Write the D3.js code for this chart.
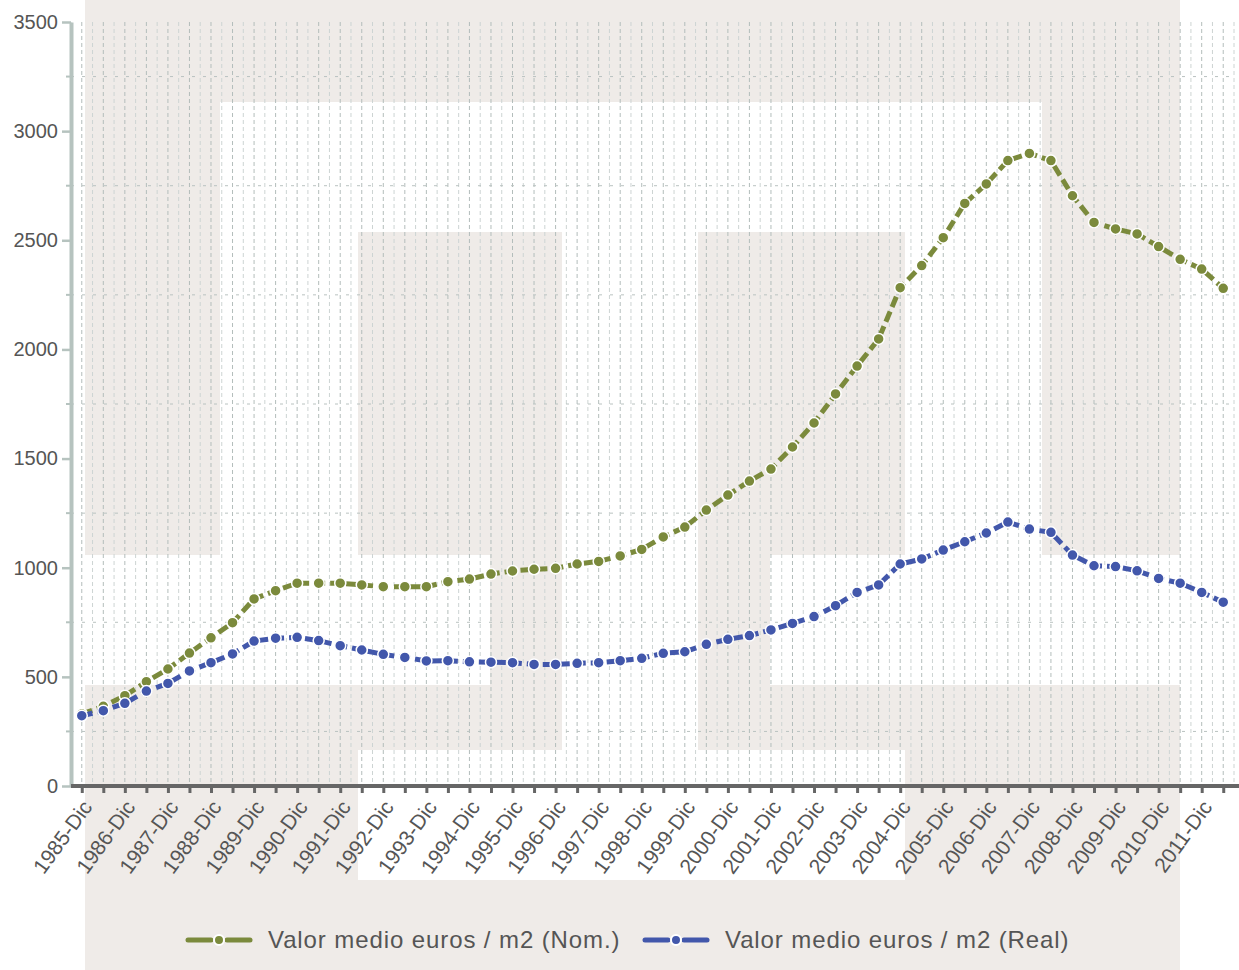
<!DOCTYPE html>
<html>
<head>
<meta charset="utf-8">
<script src="https://cdn.jsdelivr.net/npm/d3@7"></script>
<style>
  body { margin: 0; background: #fff; }
  svg { display: block; font-family: "Liberation Sans", Arial, sans-serif; }
</style>
</head>
<body>
<div id="chart"></div>
<script>
const periods = [
    "1985-Dic", "1986-Jun", "1986-Dic", "1987-Jun", "1987-Dic", "1988-Jun", "1988-Dic",
    "1989-Jun", "1989-Dic", "1990-Jun", "1990-Dic", "1991-Jun", "1991-Dic", "1992-Jun",
    "1992-Dic", "1993-Jun", "1993-Dic", "1994-Jun", "1994-Dic", "1995-Jun", "1995-Dic",
    "1996-Jun", "1996-Dic", "1997-Jun", "1997-Dic", "1998-Jun", "1998-Dic", "1999-Jun",
    "1999-Dic", "2000-Jun", "2000-Dic", "2001-Jun", "2001-Dic", "2002-Jun", "2002-Dic",
    "2003-Jun", "2003-Dic", "2004-Jun", "2004-Dic", "2005-Jun", "2005-Dic", "2006-Jun",
    "2006-Dic", "2007-Jun", "2007-Dic", "2008-Jun", "2008-Dic", "2009-Jun", "2009-Dic",
    "2010-Jun", "2010-Dic", "2011-Jun", "2011-Dic", "2012-Jun"
];
const nominal = [
    330, 365, 414, 478, 536, 609, 679, 748, 857, 895, 929, 929, 929, 921,
    913, 913, 913, 936, 948, 971, 985, 993, 997, 1017, 1029, 1054, 1084, 1141,
    1186, 1264, 1333, 1397, 1452, 1553, 1663, 1796, 1924, 2048, 2283, 2384, 2512, 2669,
    2758, 2865, 2898, 2865, 2704, 2582, 2552, 2529, 2471, 2413, 2368, 2280
];
const real = [
    322, 345, 379, 435, 470, 527, 565, 605, 664, 677, 681, 666, 643, 623,
    603, 589, 573, 574, 569, 567, 565, 557, 557, 562, 565, 574, 585, 608,
    615, 649, 672, 689, 715, 745, 776, 826, 887, 921, 1017, 1040, 1081, 1119,
    1159, 1209, 1177, 1162, 1058, 1009, 1005, 986, 951, 929, 887, 842
];
const seriesNames = ["Valor medio euros / m2 (Nom.)", "Valor medio euros / m2 (Real)"];
const seriesColors = ["#7b8a3c", "#4257ab"];
const yMajor = [0, 500, 1000, 1500, 2000, 2500, 3000, 3500];
const yMinor = [250, 750, 1250, 1750, 2250, 2750, 3250];

const width = 1239;
const height = 970;
const margin = { top: 22, bottom: 184, left: 71, right: 5 };

const svg = d3
    .select("#chart")
    .append("svg")
    .attr("width", width)
    .attr("height", height);

// watermark blocks behind the plot
const watermark = [
    [85, 0, 1095, 102],
    [85, 102, 135, 453],
    [1042, 102, 138, 453],
    [358, 232, 204, 323],
    [698, 232, 207, 323],
    [490, 555, 72, 130],
    [698, 555, 72, 130],
    [85, 685, 477, 65],
    [698, 685, 482, 65],
    [85, 750, 273, 220],
    [905, 750, 275, 220],
    [358, 880, 547, 90]
];
svg.append("g")
    .selectAll("rect")
    .data(watermark)
    .enter()
    .append("rect")
    .attr("x", (d) => d[0])
    .attr("y", (d) => d[1])
    .attr("width", (d) => d[2])
    .attr("height", (d) => d[3])
    .attr("fill", "#efebe8");

const x = d3
    .scalePoint()
    .domain(periods)
    .range([margin.left, width - margin.right])
    .padding(0.5);
const y = d3
    .scaleLinear()
    .domain([0, 3500])
    .range([height - margin.bottom, margin.top]);

// grid
const step = x.step();
const gridGroup = svg.append("g").attr("id", "grid");
gridGroup
    .selectAll("line.major")
    .data(periods)
    .enter()
    .append("line")
    .attr("x1", (d) => x(d))
    .attr("x2", (d) => x(d))
    .attr("y1", y(3500))
    .attr("y2", y(0))
    .attr("stroke", "#b3bdbb")
    .attr("stroke-width", 1)
    .attr("stroke-dasharray", "4,3");
gridGroup
    .selectAll("line.half")
    .data([-1].concat(d3.range(periods.length)))
    .enter()
    .append("line")
    .attr("x1", (i) => (i < 0 ? x(periods[0]) - step / 2 : x(periods[i]) + step / 2))
    .attr("x2", (i) => (i < 0 ? x(periods[0]) - step / 2 : x(periods[i]) + step / 2))
    .attr("y1", y(3500))
    .attr("y2", y(0))
    .attr("stroke", "#cdd4d3")
    .attr("stroke-width", 1)
    .attr("stroke-dasharray", "4,3");
gridGroup
    .selectAll("line.h")
    .data(yMinor)
    .enter()
    .append("line")
    .attr("x1", margin.left)
    .attr("x2", width - margin.right)
    .attr("y1", (d) => y(d))
    .attr("y2", (d) => y(d))
    .attr("stroke", "#b9c2c0")
    .attr("stroke-width", 1)
    .attr("stroke-dasharray", "3,8");

// y axis
const yAxisGroup = svg.append("g").attr("transform", `translate(${margin.left},0)`);
yAxisGroup.call(
    d3.axisLeft(y)
        .tickValues(yMajor)
        .tickFormat(d3.format("d"))
        .tickSize(9)
        .tickSizeOuter(0)
        .tickPadding(4)
);
yAxisGroup.select(".domain").attr("stroke", "#b6c3bf").attr("stroke-width", 4);
yAxisGroup.selectAll(".tick line").attr("stroke", "#b6c3bf").attr("stroke-width", 2.5);
yAxisGroup
    .selectAll(".tick text")
    .attr("fill", "#555")
    .style("font-size", "20px");
yAxisGroup
    .selectAll("line.minor")
    .data(yMinor)
    .enter()
    .append("line")
    .attr("x1", -5)
    .attr("x2", 0)
    .attr("y1", (d) => y(d))
    .attr("y2", (d) => y(d))
    .attr("stroke", "#b6c3bf")
    .attr("stroke-width", 2);

// x axis
const xAxisGroup = svg.append("g").attr("transform", `translate(0,${y(0)})`);
xAxisGroup.call(
    d3.axisBottom(x)
        .tickSize(7)
        .tickSizeOuter(0)
        .tickFormat((d, i) => (i % 2 === 0 ? d : ""))
);
xAxisGroup
    .select(".domain")
    .attr("d", `M${margin.left},0H${width}`)
    .attr("stroke", "#666")
    .attr("stroke-width", 4);
xAxisGroup.selectAll(".tick line").attr("stroke", "#666").attr("stroke-width", 3);
xAxisGroup
    .selectAll(".tick text")
    .attr("fill", "#555")
    .style("font-size", "21px")
    .attr("text-anchor", "end")
    .attr("y", 0)
    .attr("dy", "0.35em")
    .attr("transform", "translate(5,17) rotate(-54)");

// lines
const series = [nominal, real];
const line = d3
    .line()
    .x((d, i) => x(periods[i]))
    .y((d) => y(d));
const lineGroup = svg.append("g").attr("id", "lines");
series.forEach((values, s) => {
    lineGroup
        .append("path")
        .attr("d", line(values))
        .attr("fill", "none")
        .attr("stroke", seriesColors[s])
        .attr("stroke-width", 5)
        .attr("stroke-dasharray", "11,5");
    lineGroup
        .selectAll(`circle.s${s}`)
        .data(values)
        .enter()
        .append("circle")
        .attr("class", `s${s}`)
        .attr("cx", (d, i) => x(periods[i]))
        .attr("cy", (d) => y(d))
        .attr("r", 5.5)
        .attr("fill", seriesColors[s])
        .attr("stroke", "#fff")
        .attr("stroke-width", 1.5);
});

// legend
const legendX = [188, 645];
const legend = svg.append("g").attr("id", "legend");
seriesNames.forEach((name, s) => {
    const lx = legendX[s];
    const ly = 940;
    [[lx, lx + 23], [lx + 39, lx + 62]].forEach((seg) => {
        legend
            .append("line")
            .attr("x1", seg[0])
            .attr("x2", seg[1])
            .attr("y1", ly)
            .attr("y2", ly)
            .attr("stroke", seriesColors[s])
            .attr("stroke-width", 5)
            .attr("stroke-linecap", "round");
    });
    legend
        .append("circle")
        .attr("cx", lx + 31)
        .attr("cy", ly)
        .attr("r", 5)
        .attr("fill", seriesColors[s])
        .attr("stroke", "#fff")
        .attr("stroke-width", 2);
    legend
        .append("text")
        .attr("x", lx + 80)
        .attr("y", ly + 8)
        .text(name)
        .attr("fill", "#555")
        .style("font-size", "24px")
        .style("letter-spacing", "0.9px");
});
</script>
</body>
</html>
